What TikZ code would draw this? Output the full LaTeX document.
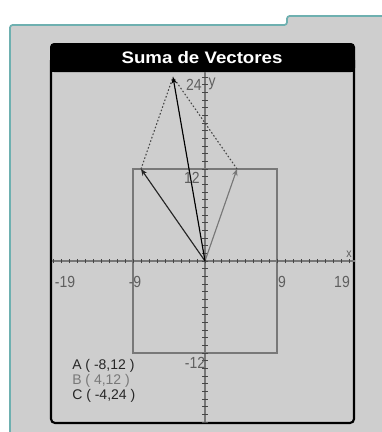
\documentclass[tikz,border=0pt]{standalone}
\usepackage{fontspec}
\setmainfont{Liberation Sans}
\usetikzlibrary{arrows.meta}
\definecolor{panelgrey}{RGB}{206,206,206}
\definecolor{tealline}{RGB}{110,176,176}
\definecolor{axisgrey}{RGB}{120,120,120}
\definecolor{tickgrey}{RGB}{70,70,70}
\definecolor{labelgrey}{RGB}{95,95,95}
\definecolor{vecgrey}{RGB}{120,120,120}
\begin{document}
\begin{tikzpicture}[x=0.75pt,y=-0.75pt,
  axislbl/.style={font=\fontsize{10.5}{12}\selectfont, text=labelgrey, inner sep=0pt, yscale=1.15},
  legendlbl/.style={font=\fontsize{10.5}{12}\selectfont, inner sep=0pt, anchor=west},
  vecline/.style={line width=0.85pt, -{Stealth[length=5pt,width=4pt]}},
  dotline/.style={line width=0.8pt, draw=tickgrey, dash pattern=on 1.2pt off 1.5pt},
  boxline/.style={draw=axisgrey, line width=0.8pt}]
\useasboundingbox (0,0) rectangle (382,432);
\fill[white] (0,0) rectangle (382,432);
% outer panel
\fill[panelgrey] (10,432) -- (10,25) -- (287,25) -- (287,16) -- (383,16) -- (383,432) -- cycle;
\draw[tealline, line width=1.3pt, rounded corners=2pt] (10,433) -- (10,25) -- (287,25) -- (287,16) -- (383,16);
% window frame
\draw[black, line width=1.6pt, rounded corners=3pt] (51,60) -- (51,423) -- (354,423) -- (354,60);
\fill[black, rounded corners=3pt] (50,43) rectangle (355,72);
\fill[black] (50,60) rectangle (355,72);
\node[text=white, font=\fontsize{12.5}{14}\bfseries, inner sep=0pt, xscale=1.12] (title) at (202,57.5) {Suma de Vectores};
% coordinate system
\begin{scope}[shift={(153.75pt,-195.75pt)}, x=6pt, y=5.75pt]
  \draw[boxline] (-9,-12) rectangle (9,12);
  \draw[axisgrey, line width=0.8pt] (-19.1,0) -- (18.75,0);
  \draw[axisgrey, line width=0.8pt] (0,-21.1) -- (0,24.6);
  \foreach \i in {-19,...,18} \draw[tickgrey, line width=0.7pt] (\i,-0.3) -- (\i,0.3);
  \foreach \j in {-21,...,24} \draw[tickgrey, line width=0.7pt] (-0.33,\j) -- (0.33,\j);
  \coordinate (O) at (0,0);
  \coordinate (A) at (-8,12);
  \coordinate (B) at (4,12);
  \coordinate (C) at (-4,24);
  \draw[dotline] (A) -- (C);
  \draw[dotline] (B) -- (C);
  \draw[vecline, draw=vecgrey, fill=vecgrey] (O) -- (B);
  \draw[vecline, draw=black!85, fill=black!85] (O) -- (A);
  \draw[vecline, draw=black, fill=black] (O) -- (C);
\end{scope}
% axis labels
\node[axislbl] (xm19) at (65,282) {-19};
\node[axislbl] (xm9) at (135,282) {-9};
\node[axislbl] (xp9) at (282,282) {9};
\node[axislbl] (xp19) at (342,282) {19};
\node[axislbl, font=\fontsize{8}{9}\selectfont] (xlab) at (349,254) {x};
\node[axislbl] (y12) at (192,178) {12};
\node[axislbl] (ym12) at (195,363) {-12};
\node[axislbl] (y24) at (194,85) {24};
\node[axislbl] (ylab) at (212,84) {y};
% legend
\node[legendlbl, text=black!85] (legA) at (72,366) {A ( -8,12 )};
\node[legendlbl, text=vecgrey] (legB) at (72,381) {B ( 4,12 )};
\node[legendlbl, text=black!85] (legC) at (72,396) {C ( -4,24 )};
\end{tikzpicture}
\end{document}
